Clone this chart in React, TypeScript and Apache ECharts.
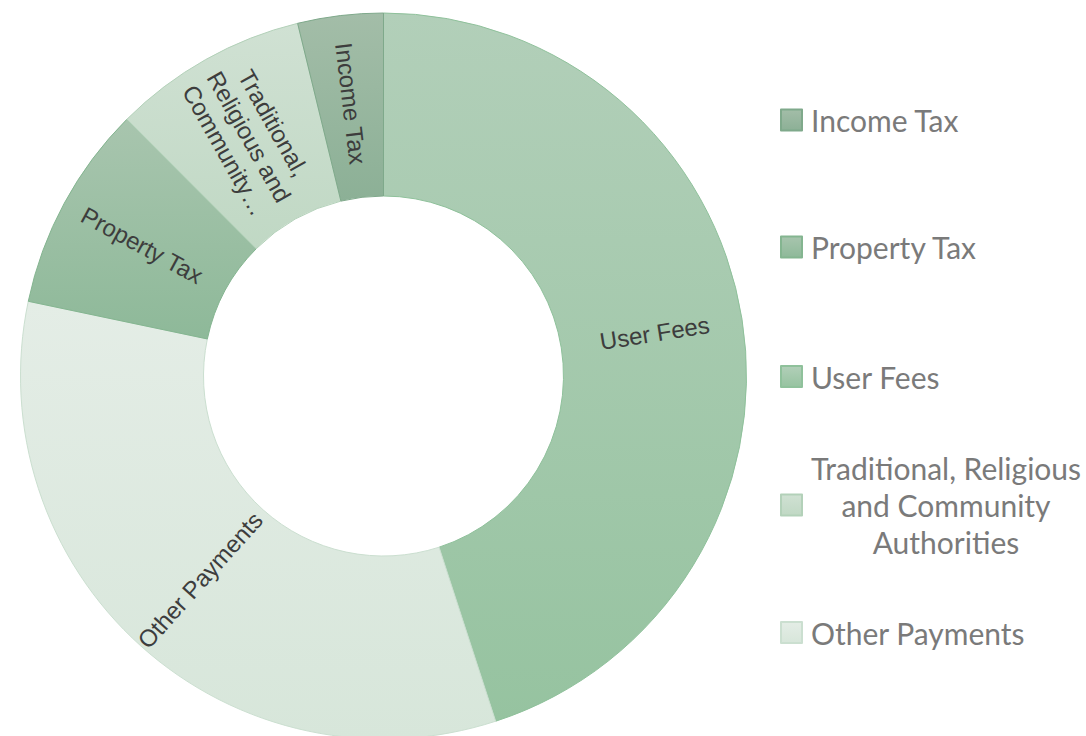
import React, { useEffect, useRef } from "react";
import * as echarts from "echarts";

const categories = [
  "User Fees",
  "Other Payments",
  "Property Tax",
  "Traditional, Religious and Community Authorities",
  "Income Tax",
];
const values = [45.0, 33.3, 9.2, 8.7, 3.8];
const legendOrder = [
  "Income Tax",
  "Property Tax",
  "User Fees",
  "Traditional, Religious and Community Authorities",
  "Other Payments",
];
const legendCenters = [120, 247, 376.5, 505, 632.5];

const sliceColors: Record<string, [string, string, string]> = {
  "User Fees": ["#b2cfb9", "#96c3a0", "#8fc19b"],
  "Other Payments": ["#e4ede6", "#d7e6da", "#cbdfd0"],
  "Property Tax": ["#a8c5ae", "#8eb999", "#84b590"],
  "Traditional, Religious and Community Authorities": ["#d0e1d3", "#c0d8c4", "#b3d1b9"],
  "Income Tax": ["#a3bda8", "#8cb096", "#7fa98b"],
};

const LABEL_FONT = "'Liberation Sans', Arial, sans-serif";
const LEGEND_FONT = "Lato, 'Open Sans', sans-serif";

export default function App() {
  const ref = useRef<HTMLDivElement>(null);
  useEffect(() => {
    if (!ref.current) return;
    const chart = echarts.init(ref.current, undefined, { renderer: "svg" });
    const data = categories.map((name, i) => {
      const c = sliceColors[name];
      const item: any = {
        name,
        value: values[i],
        itemStyle: {
          color: new echarts.graphic.LinearGradient(0, 0, 0, 1, [
            { offset: 0, color: c[0] },
            { offset: 1, color: c[1] },
          ]),
          borderColor: c[2],
          borderWidth: 1,
        },
      };
      if (name.startsWith("Traditional")) {
        item.label = {
          formatter: "Traditional,\nReligious and\nCommunity…",
          lineHeight: 28,
        };
      }
      return item;
    });

    const legends = legendOrder.map((name, i) => {
      const multi = name.startsWith("Traditional");
      const h = multi ? 111 : 32;
      return {
        data: [name],
        orient: "vertical",
        left: 780,
        top: legendCenters[i] - h / 2,
        padding: 0,
        itemWidth: 21,
        itemHeight: 21,
        selectedMode: false,
        icon: "rect",
        formatter: multi
          ? () => "{c|Traditional, Religious}\n{c|and Community}\n{c|Authorities}"
          : undefined,
        textStyle: {
          fontFamily: LEGEND_FONT,
          fontSize: 30,
          color: "#7a7a7a",
          lineHeight: 32,
          padding: [0, 0, 0, 4],
          rich: {
            c: {
              fontFamily: LEGEND_FONT,
              fontSize: 30,
              color: "#7a7a7a",
              lineHeight: 37,
              width: 270,
              align: "center",
            },
          },
        },
      };
    });

    chart.setOption({
      animation: false,
      legend: legends,
      series: [
        {
          type: "pie",
          center: [383.5, 376],
          radius: [180, 363],
          startAngle: 90,
          clockwise: true,
          avoidLabelOverlap: false,
          label: {
            show: true,
            position: "inside",
            rotate: "radial",
            formatter: "{b}",
            fontFamily: LABEL_FONT,
            fontSize: 24,
            color: "#3d3d3d",
            textBorderWidth: 0,
          },
          labelLine: { show: false },
          emphasis: { disabled: true },
          data,
        },
      ],
    });
    return () => chart.dispose();
  }, []);
  return (
    <div
      ref={ref}
      style={{ position: "absolute", left: 0, top: 0, width: "1086px", height: "736px" }}
    />
  );
}
